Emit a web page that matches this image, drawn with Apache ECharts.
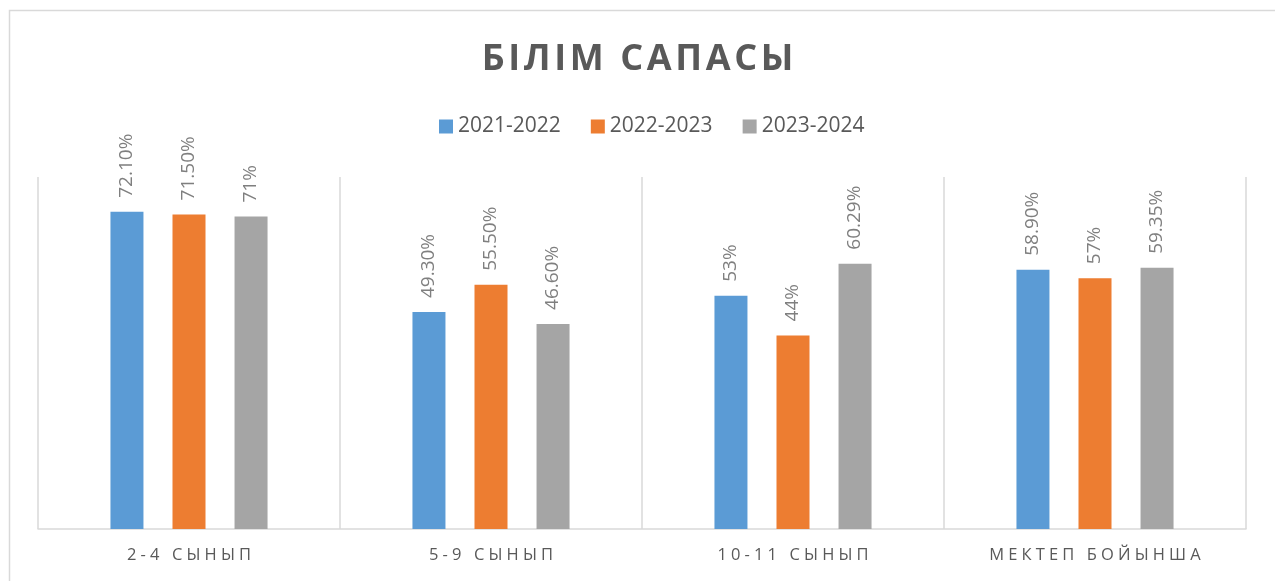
<!DOCTYPE html>
<html>
<head>
<meta charset="utf-8">
<script src="https://cdn.jsdelivr.net/npm/echarts@6/dist/echarts.min.js"></script>
<style>
html,body{margin:0;padding:0;background:#fff;}
#main{width:1275px;height:581px;}
</style>
</head>
<body>
<div id="main"></div>
<script>
var categories = ['2-4 СЫНЫП', '5-9 СЫНЫП', '10-11 СЫНЫП', 'МЕКТЕП БОЙЫНША'];
var seriesNames = ['2021-2022', '2022-2023', '2023-2024'];
var values2021 = [72.1, 49.3, 53, 58.9];
var values2022 = [71.5, 55.5, 44, 57];
var values2023 = [71, 46.6, 60.29, 59.35];
var labels2021 = ['72.10%', '49.30%', '53%', '58.90%'];
var labels2022 = ['71.50%', '55.50%', '44%', '57%'];
var labels2023 = ['71%', '46.60%', '60.29%', '59.35%'];
var colors = ['#5b9bd5', '#ed7d31', '#a5a5a5'];

var myChart = echarts.init(document.getElementById('main'));

// spaced-out letters like the original
function spread(s, gap) {
    return s.split('').join(gap);
}

function makeSeries(name, data, labels) {
    return {
        name: name,
        type: 'bar',
        barWidth: 33,
        barGap: '88%',
        data: data,
        label: {
            show: true,
            position: 'top',
            rotate: 90,
            align: 'left',
            verticalAlign: 'middle',
            distance: 14,
            color: '#7f7f7f',
            fontFamily: 'Open Sans',
            fontSize: 19,
            formatter: function (p) { return labels[p.dataIndex]; }
        }
    };
}

var option = {
    animation: false,
    color: colors,
    title: {
        text: spread('БІЛІМ САПАСЫ', '\u200A'),
        left: 'center',
        top: 37,
        textStyle: {
            fontFamily: 'Open Sans',
            fontWeight: 'bold',
            fontSize: 36,
            color: '#595959'
        }
    },
    legend: {
        data: seriesNames,
        top: 111,
        left: 434,
        itemWidth: 14,
        itemHeight: 14,
        itemGap: 30,
        icon: 'rect',
        textStyle: {
            fontFamily: 'Open Sans',
            fontSize: 21,
            color: '#595959'
        }
    },
    grid: {
        left: 38,
        right: 29,
        top: 177,
        bottom: 52
    },
    xAxis: {
        type: 'category',
        data: categories,
        axisLine: { lineStyle: { color: '#d9d9d9', width: 1.5 } },
        axisTick: { show: false },
        splitLine: { show: true, lineStyle: { color: '#d9d9d9', width: 1.5 } },
        axisLabel: {
            margin: 18,
            fontFamily: 'Open Sans',
            fontSize: 16.5,
            color: '#595959',
            formatter: function (v) { return spread(v, '\u2005'); }
        }
    },
    yAxis: {
        type: 'value',
        min: 0,
        max: 80,
        show: false
    },
    series: [
        makeSeries(seriesNames[0], values2021, labels2021),
        makeSeries(seriesNames[1], values2022, labels2022),
        makeSeries(seriesNames[2], values2023, labels2023)
    ],
    graphic: [{
        type: 'rect',
        shape: { x: 9.5, y: 10.5, width: 1300, height: 600 },
        style: { fill: 'none', stroke: '#d9d9d9', lineWidth: 1.5 },
        silent: true
    }]
};
myChart.setOption(option);
</script>
</body>
</html>
